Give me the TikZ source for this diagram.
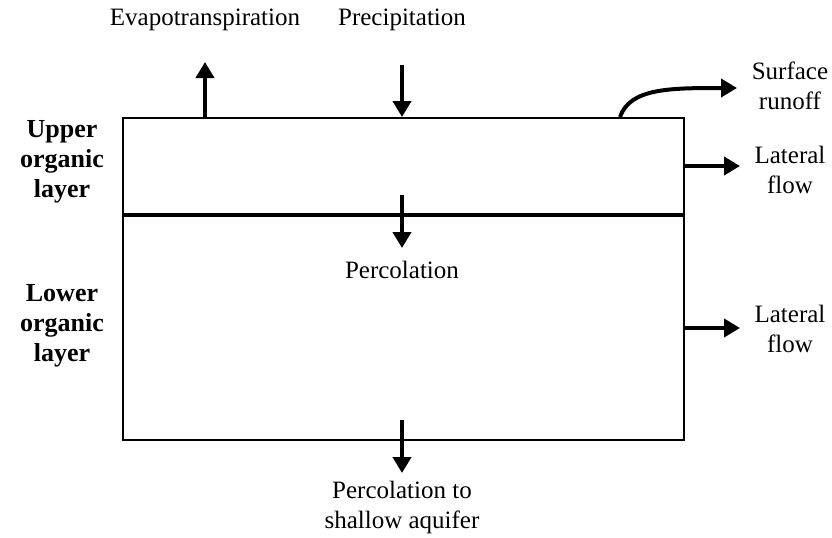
\documentclass[tikz,border=0pt]{standalone}
\usepackage{fontspec}
\setmainfont{Liberation Serif}
\usetikzlibrary{arrows.meta, positioning}
\tikzstyle{layer} = [rectangle,
			draw,
			line width = 1pt,
			inner sep = 0pt,
			minimum width = 280.5pt]
\tikzstyle{lbl} = [text centered,
			align = center,
			inner sep = 0pt,
			font = \fontsize{12.5}{15}\selectfont]
\tikzstyle{blbl} = [lbl, font = \fontsize{13}{15}\selectfont\bfseries]
\tikzstyle{flow} = [draw, line width = 2pt, -{Triangle[width=9pt, length=8pt]}]

\begin{document}
\begin{tikzpicture}[x=0.5pt, y=-0.5pt]
	\useasboundingbox (0,0) rectangle (832,537);
	% soil layers
	\node [layer, minimum height = 48pt, anchor = north west] (upper) at (122,117) {};
	\node [layer, minimum height = 112pt, below=0pt of upper] (lower) {};
	% labels
	\node [lbl] (evap) at (205,20) {Evapotranspiration};
	\node [lbl] (precip) at (402,20) {Precipitation};
	\node [lbl] (runoff) at (790,86) {Surface\\runoff};
	\node [lbl] (lat-up) at (790,170) {Lateral\\flow};
	\node [lbl] (lat-low) at (790,329) {Lateral\\flow};
	\node [lbl] (perc) at (402,270) {Percolation};
	\node [lbl] (aquifer) at (402,507) {Percolation to\\shallow aquifer};
	\node [blbl] (upper-name) at (62,162) {Upper\\organic\\layer};
	\node [blbl] (lower-name) at (62,326) {Lower\\organic\\layer};
	% arrow ends
	\coordinate (evap-tip) at (205,62);
	\coordinate (precip-top) at (402,65);
	\coordinate (runoff-start) at (620,117);
	\coordinate (runoff-tip) at (737,88);
	\coordinate (perc-top) at (402,195);
	\coordinate (perc-tip) at (402,248);
	\coordinate (aquifer-top) at (402,420);
	\coordinate (aquifer-tip) at (402,473);
	% flows
	\path [flow] (upper.north -| evap-tip) -- (evap-tip);
	\path [flow] (precip-top) -- (upper.north -| precip-top);
	\path [flow] (runoff-start) .. controls (630,88) and (670,88) .. (runoff-tip);
	\path [flow] (upper.east) -- ++(55,0);
	\path [flow] (lower.east) -- ++(55,0);
	\path [flow] (perc-top) -- (perc-tip);
	\path [flow] (aquifer-top) -- (aquifer-tip);
\end{tikzpicture}
\end{document}
